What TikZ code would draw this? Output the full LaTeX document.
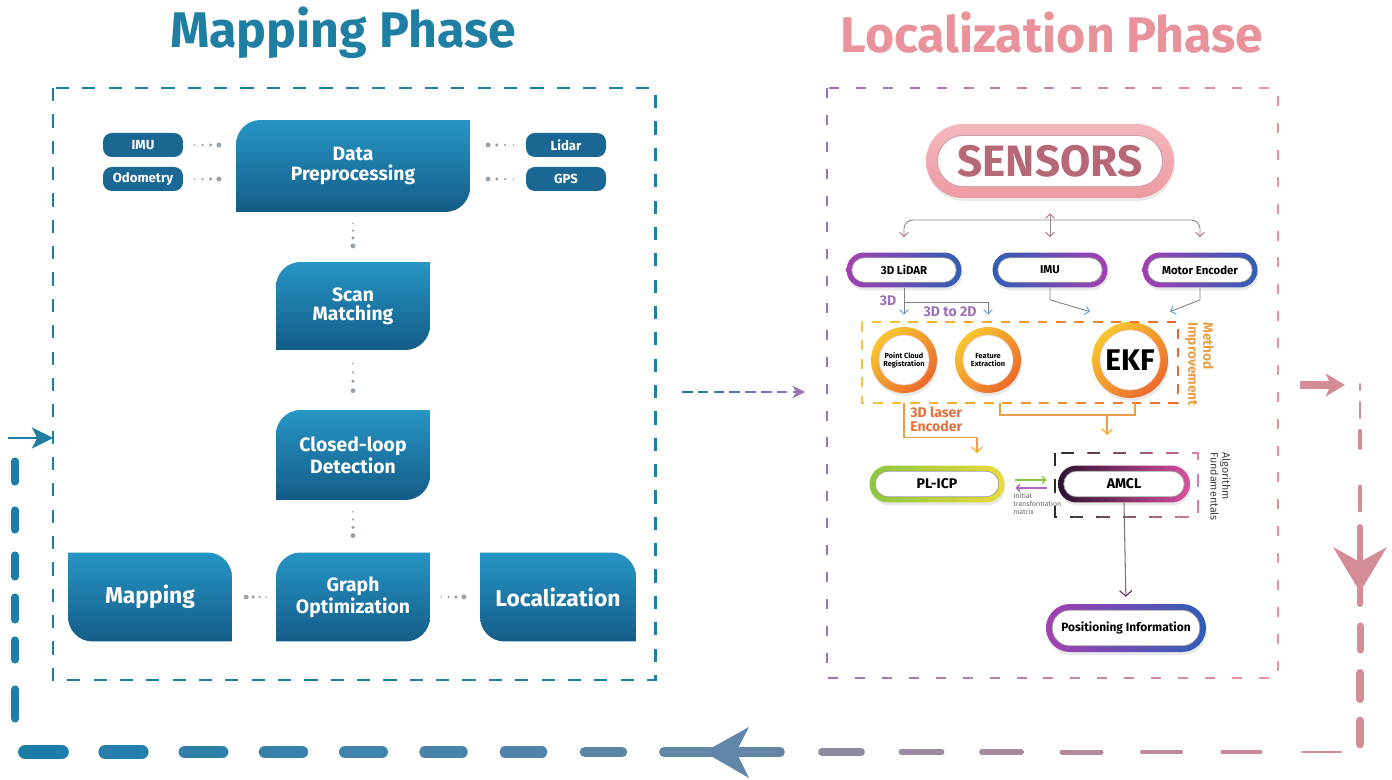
\documentclass[tikz,border=0pt]{standalone}
\usepackage{fontspec}
\setmainfont{Fira Sans}
\usetikzlibrary{calc,shapes.misc,shadows,arrows.meta}

\definecolor{mapteal}{HTML}{1E7FA3}
\definecolor{boxtop}{HTML}{2695C5}
\definecolor{boxbot}{HTML}{145C88}
\definecolor{pilldark}{HTML}{1B6794}
\definecolor{dotgrey}{HTML}{98A2AC}
\definecolor{locpink}{HTML}{E8939B}
\definecolor{senspink}{HTML}{EE9AA2}
\definecolor{senstext}{HTML}{B66876}
\definecolor{lilac}{HTML}{9C72B6}
\definecolor{ringpurple}{HTML}{A43FB2}
\definecolor{ringblue}{HTML}{2F5DB8}
\definecolor{arrblue}{HTML}{5A9AD8}
\definecolor{orbyellow}{HTML}{F7C630}
\definecolor{orbred}{HTML}{EC6A2C}
\definecolor{methorange}{HTML}{E8A048}
\definecolor{laser}{HTML}{E8703A}
\definecolor{laserline}{HTML}{EE9E48}
\definecolor{limegreen}{HTML}{8CC63F}
\definecolor{plyellow}{HTML}{EBDB3A}
\definecolor{amcldark}{HTML}{2E1032}
\definecolor{amclpink}{HTML}{D8509C}
\definecolor{algdark}{HTML}{2A2A2A}
\definecolor{algpink}{HTML}{E07AA8}
\definecolor{retteal}{HTML}{1E7EAA}
\definecolor{retslate}{HTML}{6286A8}
\definecolor{retmauve}{HTML}{8E8AA2}
\definecolor{retpink}{HTML}{D48C96}

\newcommand\titlefont{\bfseries\fontsize{28.5}{32}\selectfont}
\newcommand\boxfont{\bfseries\fontsize{11}{11}\selectfont}
\newcommand\bigboxfont{\bfseries\fontsize{13}{14}\selectfont}
\newcommand\pillfont{\bfseries\fontsize{7.5}{8}\selectfont}
\newcommand\sensfont{\bfseries\fontsize{25}{26}\selectfont}
\newcommand\ringfont{\bfseries\fontsize{6.5}{7}\selectfont}
\newcommand\ringbig{\bfseries\fontsize{8}{9}\selectfont}
\newcommand\posfont{\bfseries\fontsize{6.8}{7}\selectfont}
\newcommand\orbsmall{\bfseries\fontsize{4.2}{4.6}\selectfont}
\newcommand\ekffont{\bfseries\fontsize{17}{18}\selectfont}
\newcommand\labfont{\bfseries\fontsize{8}{8.5}\selectfont}
\newcommand\laserfont{\bfseries\fontsize{8}{8.5}\selectfont}
\newcommand\methfont{\bfseries\fontsize{7.8}{8.5}\selectfont}
\newcommand\algfont{\fontsize{6.1}{6.6}\selectfont}
\newcommand\tinyfont{\fontsize{4}{4.4}\selectfont}

\newcommand\boxr{14pt}

% dotted link, the dots grow towards #2
\newcommand\dotsto[2]{%
  \foreach \dpos/\drad in {0.22/0.5,0.37/0.7,0.52/1,0.68/1.4}
    \fill[dotgrey] ($(#1)!\dpos!(#2)$) circle (\drad pt);}

% pill with a shaded rim: [inner opts]{name}{at}{w}{h}{rim}{shading}{text}
\newcommand\ring[8][]{%
  \node[ringout, minimum width=#4, minimum height=#5, #7] (#2) at (#3) {};
  \node[ringin, minimum width=#4-#6, minimum height=#5-#6, #1] (#2-in) at (#2) {#8};}

% orange disc: [inner opts]{name}{at}{size}{text}
\newcommand\orb[5][]{%
  \node[orbout, minimum size=#4] (#2) at (#3) {};
  \node[orbin, minimum size=#4-9pt, #1] (#2-in) at (#2) {#5};}

% dashed frame, colour runs from #6 (left) to #7 (right)
\newcommand\fadebox[7]{%
  \foreach \i in {0,...,11}{%
    \pgfmathtruncatemacro\pc{100*\i/11}
    \begin{scope}
      \clip ({#2+(\i-0.5)*(#4-#2)/11},{#3-12}) rectangle ({#2+(\i+0.5)*(#4-#2)/11},{#5+12});
      \draw[#1, #7!\pc!#6] (#2,#3) rectangle (#4,#5);
    \end{scope}}}

\begin{document}
\begin{tikzpicture}[x=0.02cm, y=-0.02cm]
  \tikzstyle{phasebox}=[inner sep=0pt, align=center, text=white, font=\boxfont]
  \tikzstyle{tlbr}=[phasebox, path picture={
      \shade[top color=boxtop, bottom color=boxbot]
        (path picture bounding box.south west)
        -- ([yshift=-\boxr]path picture bounding box.north west)
        arc[start angle=180, end angle=90, radius=\boxr]
        -- (path picture bounding box.north east)
        -- ([yshift=\boxr]path picture bounding box.south east)
        arc[start angle=0, end angle=-90, radius=\boxr] -- cycle;}]
  \tikzstyle{trbl}=[phasebox, font=\bigboxfont, path picture={
      \shade[top color=boxtop, bottom color=boxbot]
        (path picture bounding box.north west)
        -- ([xshift=-\boxr]path picture bounding box.north east)
        arc[start angle=90, end angle=0, radius=\boxr]
        -- (path picture bounding box.south east)
        -- ([xshift=\boxr]path picture bounding box.south west)
        arc[start angle=270, end angle=180, radius=\boxr] -- cycle;}]
  \tikzstyle{inpill}=[fill=pilldark, rounded corners=5pt, minimum width=1.6cm, minimum height=0.48cm, inner sep=0pt, text=white, font=\pillfont]
  \tikzstyle{mapdash}=[mapteal, line width=1.7pt, dash pattern=on 7.5pt off 7.5pt]
  \tikzstyle{locdash}=[line width=1.1pt, dash pattern=on 5.7pt off 9.6pt]
  \tikzstyle{methdash}=[line width=1.2pt, dash pattern=on 5.5pt off 5pt]
  \tikzstyle{algdash}=[line width=1.4pt, dash pattern=on 7.5pt off 7.5pt]
  \tikzstyle{ringout}=[rounded rectangle, inner sep=0pt, drop shadow={opacity=0.18, shadow xshift=0.6pt, shadow yshift=-1.6pt}]
  \tikzstyle{ringin}=[rounded rectangle, inner sep=0pt, fill=white, draw=black!40, line width=0.4pt, font=\ringfont]
  \tikzstyle{orbout}=[circle, inner sep=0pt, top color=orbyellow, bottom color=orbred, shading angle=45, drop shadow={opacity=0.18, shadow xshift=0.6pt, shadow yshift=-1.6pt}]
  \tikzstyle{orbin}=[circle, inner sep=0pt, fill=white, draw=orbred!50, line width=0.3pt, align=center]
  \tikzstyle{brk}=[draw=black!45, line width=0.5pt, {Straight Barb[color=senstext, length=2.5pt, width=5pt]}-{Straight Barb[color=senstext, length=2.5pt, width=5pt]}]
  \tikzstyle{bline}=[draw=black!50, line width=0.5pt, -{Straight Barb[color=arrblue, length=2.5pt, width=5pt]}]
  \tikzstyle{oframe}=[draw=laserline, line width=0.7pt]
  \tikzstyle{oline}=[oframe, -{Straight Barb[color=orbyellow!70!orange, length=3pt, width=6pt]}]
  \tikzstyle{lab3d}=[text=lilac, font=\labfont, inner sep=0pt]
  \tikzstyle{sidelab}=[rotate=-90, anchor=north west, align=left, inner sep=0pt]
  \tikzstyle{greenarr}=[draw=limegreen, line width=0.8pt, -{Straight Barb[length=2pt, width=4pt]}, shorten <=0.21cm, shorten >=0.22cm]
  \tikzstyle{purparr}=[draw=ringpurple!80, line width=0.8pt, -{Straight Barb[length=2pt, width=4pt]}, shorten <=0.22cm, shorten >=0.21cm]
  \tikzstyle{darkarr}=[draw=black!55, line width=0.6pt, -{Straight Barb[color=amcldark!60!ringpurple, length=3pt, width=7pt]}, shorten >=0.14cm]
  \tikzstyle{midarr}=[line width=1.2pt, dash pattern=on 6pt off 3pt, shorten <=0.54cm, shorten >=0.44cm, -{Stealth[length=7pt, width=7pt, inset=2pt]}]

  \useasboundingbox (0,0) rectangle (1392,780);

  % titles
  \node[font=\titlefont, text=mapteal] (maptitle) at (343,33) {Mapping Phase};
  \node[font=\titlefont, text=locpink] (loctitle) at (1052,33) {Localization Phase};

  % ---- mapping phase ----
  \draw[mapdash] (53,88) rectangle (655,680);

  \node[tlbr, minimum width=4.68cm, minimum height=1.84cm] (dp) at (353,166) {Data\\Preprocessing};
  \node[tlbr, minimum width=3.08cm, minimum height=1.76cm] (scan) at (353,306) {Scan\\Matching};
  \node[tlbr, minimum width=3.08cm, minimum height=1.8cm] (cld) at (353,455) {Closed-loop\\Detection};
  \node[tlbr, minimum width=3.08cm, minimum height=1.78cm] (graph) at (353,597) {Graph\\Optimization};
  \node[trbl, minimum width=3.28cm, minimum height=1.78cm] (mapping) at (150,597) {Mapping};
  \node[trbl, minimum width=3.12cm, minimum height=1.78cm] (loc) at (558,597) {Localization};

  \node[inpill] (imu) at (143,145) {IMU};
  \node[inpill] (odom) at (143,179) {Odometry};
  \node[inpill] (lidar) at (566,145) {Lidar};
  \node[inpill] (gps) at (566,179) {GPS};

  \dotsto{imu.east}{imu.east -| dp.west}
  \dotsto{odom.east}{odom.east -| dp.west}
  \dotsto{lidar.west}{lidar.west -| dp.east}
  \dotsto{gps.west}{gps.west -| dp.east}
  \dotsto{dp.south}{scan.north}
  \dotsto{scan.south}{cld.north}
  \dotsto{cld.south}{graph.north}
  \dotsto{graph.west}{mapping.east}
  \dotsto{graph.east}{loc.west}

  % ---- localization phase ----
  \fadebox{locdash}{827}{88}{1278}{678}{lilac}{locpink}

  \ring[font=\sensfont, text=senstext, draw=senstext!60, line width=0.6pt]{sens}{1050,161}{4.96cm}{1.48cm}{13pt}{top color=senspink!70, bottom color=senspink}{SENSORS}

  \ring{slidar}{904,270}{2.3cm}{0.7cm}{6pt}{left color=ringpurple, right color=ringblue}{3D LiDAR}
  \ring{simu}{1050,270}{2.3cm}{0.7cm}{6pt}{left color=ringblue, right color=ringpurple}{IMU}
  \ring{smenc}{1200,270}{2.3cm}{0.7cm}{6pt}{left color=ringpurple, right color=ringblue}{Motor Encoder}

  \coordinate (fork) at (1050,220);
  \draw[brk, rounded corners=5pt] ([yshift=0.3cm]slidar.north) |- (fork) -| ([yshift=0.3cm]smenc.north);
  \draw[brk] ([yshift=-0.3cm]sens.south) -- ([yshift=0.3cm]simu.north);

  \orb[font=\orbsmall]{pcr}{904,360}{1.32cm}{Point Cloud\\Registration}
  \orb[font=\orbsmall]{fe}{988,360}{1.32cm}{Feature\\Extraction}
  \orb[font=\ekffont]{ekf}{1130,360}{1.52cm}{EKF}

  \fadebox{methdash}{862}{322}{1178}{403}{orbyellow}{orbred}
  \node[sidelab, text=methorange, font=\methfont] (methlab) at (1214,322) {Method\\Improvement};

  \draw[bline] (slidar.south) -- ([yshift=0.24cm]pcr.north);
  \draw[bline] ([yshift=-0.3cm]slidar.south) -| ([yshift=0.24cm]fe.north);
  \draw[bline] (simu.south) -- ++(0,12) -- ([shift={(-0.8cm,0.2cm)}]ekf.north);
  \draw[bline] (smenc.south) -- ++(0,12) -- ([shift={(0.8cm,0.2cm)}]ekf.north);
  \node[lab3d] (l3d) at (888,301) {3D};
  \node[lab3d] (l2d) at (950,312) {3D to 2D};

  \ring[font=\ringbig]{plicp}{937,484}{2.7cm}{0.74cm}{6.5pt}{left color=limegreen, right color=plyellow}{PL-ICP}
  \ring[font=\ringbig]{amcl}{1124,484}{2.64cm}{0.74cm}{6.5pt}{left color=amcldark, right color=amclpink}{AMCL}
  \ring[font=\posfont]{pos}{1126,628}{3.2cm}{0.96cm}{7pt}{left color=ringpurple, right color=ringblue}{Positioning Information}

  \fadebox{algdash}{1055}{453}{1198}{517}{algdark}{algpink}
  \node[sidelab, text=black!75, font=\algfont] (alglab) at (1231,452) {Algorithm\\Fundamentals};

  % encoder and filter feeds
  \draw[oline] ([yshift=-0.2cm]pcr.south) -- ++(0,34) -| ([xshift=0.8cm, yshift=0.24cm]plicp.north);
  \node[anchor=north west, align=left, inner sep=0pt, text=laser, font=\laserfont] (laserlab) at (910,406) {3D laser\\Encoder};
  \coordinate (join) at (1107,415);
  \draw[oframe] ([xshift=0.24cm, yshift=-0.2cm]fe.south) |- (join) -| ([xshift=0.1cm, yshift=-0.1cm]ekf.south);
  \draw[oline] (join) -- ++(0,20);

  \draw[greenarr] ([yshift=0.08cm]plicp.east) -- ([yshift=0.08cm]amcl.west);
  \draw[purparr] ([yshift=-0.08cm]amcl.west) -- ([yshift=-0.08cm]plicp.east);
  \node[anchor=north west, align=left, inner sep=0pt, text=black!60, font=\tinyfont] (initlab) at (1013,493) {Initial\\transformation\\matrix};

  \draw[darkarr] (amcl.south) -- (pos.north);

  % ---- hand-over between the phases ----
  \coordinate (map-e) at (655,392);
  \coordinate (loc-w) at (827,392);
  \foreach \i in {0,...,5}{
    \pgfmathtruncatemacro\pc{20*\i}
    \begin{scope}
      \clip ({682+21*\i},375) rectangle ({704+21*\i},409);
      \draw[midarr, lilac!\pc!mapteal] (map-e) -- (loc-w);
    \end{scope}}

  % return loop
  \coordinate (ret-out) at (1300,385);
  \coordinate (ret-ne) at (1360,385);
  \draw[retpink, line width=4pt, shorten >=0.3cm, -{Stealth[length=11pt, width=13pt, inset=3pt]}] (ret-out) -- (ret-ne);

  \foreach \ya/\yb/\w in {384/390/1.2, 402/418/1.6, 431/448/2.2, 487/510/2.8, 527/604/3.4, 626/650/4, 673/699/4.6, 721/744/5}
    \draw[retpink, line width=\w pt, line cap=round] (1360,\ya) -- (1360,\yb);
  \fill[retpink] (1360,592) -- (1333,547) -- (1360,562) -- (1387,547) -- cycle;

  \foreach \k in {0,...,7}{
    \pgfmathtruncatemacro\pc{100*\k/8}
    \pgfmathsetmacro\w{7.8-0.25*\k}
    \draw[retslate!\pc!retteal, line width=\w pt, line cap=round] ({25+80*\k},752) -- ({62+80*\k},752);}
  \draw[retslate, line width=5.6pt, line cap=round] (664,752) -- (780,752);
  \fill[retslate] (704,752) -- (749,727) -- (736,752) -- (749,778) -- cycle;
  \foreach \j in {0,...,6}{
    \pgfmathtruncatemacro\pc{100*\j/6}
    \pgfmathsetmacro\w{4.5-0.55*\j}
    \draw[retpink!\pc!retmauve, line width=\w pt, line cap=round] ({822+80*\j},752) -- ({861+80*\j},752);}

  \foreach \ya/\yb in {461/482, 510/530, 555/577, 597/620, 640/660, 689/719}
    \draw[retteal, line width=4pt, line cap=round] (15,\ya) -- (15,\yb);
  \coordinate (ret-in) at (8,438);
  \coordinate (map-w) at (53,438);
  \draw[mapteal, line width=1.4pt, -{Stealth[length=12pt, width=12pt, inset=3pt]}] (ret-in) -- (map-w);
\end{tikzpicture}
\end{document}
